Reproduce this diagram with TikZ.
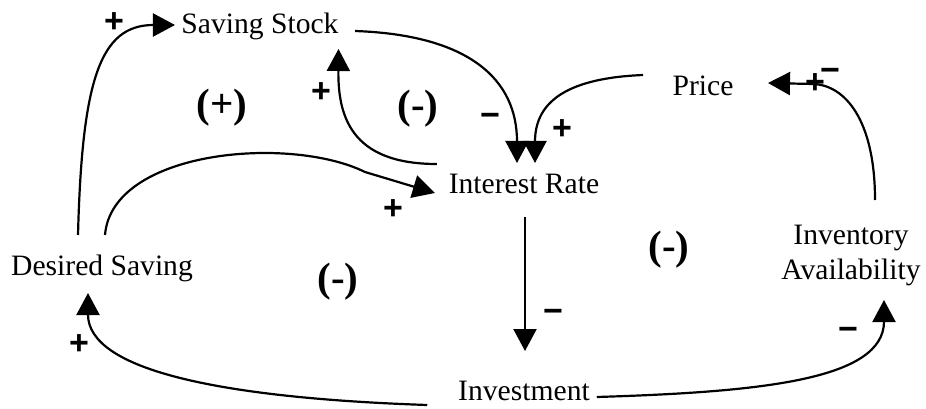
\documentclass[tikz,border=0pt]{standalone}
\usepackage{fontspec}
\setmainfont{Liberation Serif}
\newfontfamily\pmfont{Liberation Sans}
\usetikzlibrary{arrows.meta,calc}
\begin{document}
\begin{tikzpicture}[x=1pt,y=-1pt,
  var/.style={inner sep=0pt,outer sep=0pt,anchor=base,text height=20pt,text depth=6pt,
    font=\fontsize{29.6}{35}\selectfont},
  loopl/.style={inner sep=0pt,font=\fontsize{41}{41}\selectfont\bfseries},
  sgn/.style={inner sep=0pt,font=\fontsize{34}{34}\selectfont\pmfont\bfseries},
  link/.style={line width=2.2pt,-{Triangle[length=22pt,width=23pt]}}]
\useasboundingbox (0,0) rectangle (926,409);
% variables
\node[var] (ss) at (260,34) {Saving Stock};
\node[var] (price) at (703,96) {Price};
\node[var] (ir) at (524,193) {Interest Rate};
\node[var] (ds) at (102,275) {Desired Saving};
\node[var] (inv) at (524,400) {Investment};
\node[inner sep=0pt,outer sep=0pt,anchor=north,align=center,
  font=\fontsize{29.6}{35}\selectfont] (ia) at (851,225) {Inventory\\Availability};
% links
\draw[link] ($(ds.north)+(-24,-20)$) .. controls +(4,-155) and +(-75,0) .. ($(ss.west)+(-6.5,-2)$);
\draw[link] ($(ds.north)+(3,-20)$) .. controls (112,150) and (290,135) .. (365,172) -- ($(ir.west)+(-14,7)$);
\draw[link] ($(ss.east)+(16.5,4)$) .. controls (470,35) and (517,80) .. ($(ir.north)+(-7,-10)$);
\draw[link] ($(price.west)+(-29.6,-14)$) .. controls (570,78) and (535,100) .. ($(ir.north)+(11,-10)$);
\draw[link] ($(ir.west)+(-12,-22)$) .. controls (350,164) and (338,115) .. ($(ss.east)+(0,22)$);
\draw[link] ($(ir.south)+(1,18)$) -- ($(inv.north)+(1,-29)$);
\draw[link] ($(inv.west)+(-31,12)$) .. controls (220,398) and (88,370) .. ($(ds.south)+(-14,12)$);
\draw[link] ($(inv.east)+(7,4)$) .. controls (760,392) and (884,380) .. (884,300);
\draw[link] ($(ia.north)+(24,-25)$) .. controls (875,120) and (845,85) .. (813,84) -- ($(price.east)+(34.6,-6)$);
% signs
\node[sgn] (s1) at (114,23) {+};
\node[sgn] (s2) at (321,93) {+};
\node[sgn] (s3) at (490,120) {−};
\node[sgn] (s4) at (562,130) {+};
\node[sgn] (s5) at (393,210) {+};
\node[sgn] (s6) at (815,84) {+};
\node[sgn] (s7) at (830,75) {−};
\node[sgn] (s8) at (553,316) {−};
\node[sgn] (s9) at (848,334) {−};
\node[sgn] (s10) at (79,345) {+};
% loop polarities
\node[loopl] (l1) at (222,108) {(+)};
\node[loopl] (l2) at (418,109) {(-)};
\node[loopl] (l3) at (338,282) {(-)};
\node[loopl] (l4) at (669,250) {(-)};
\end{tikzpicture}
\end{document}
